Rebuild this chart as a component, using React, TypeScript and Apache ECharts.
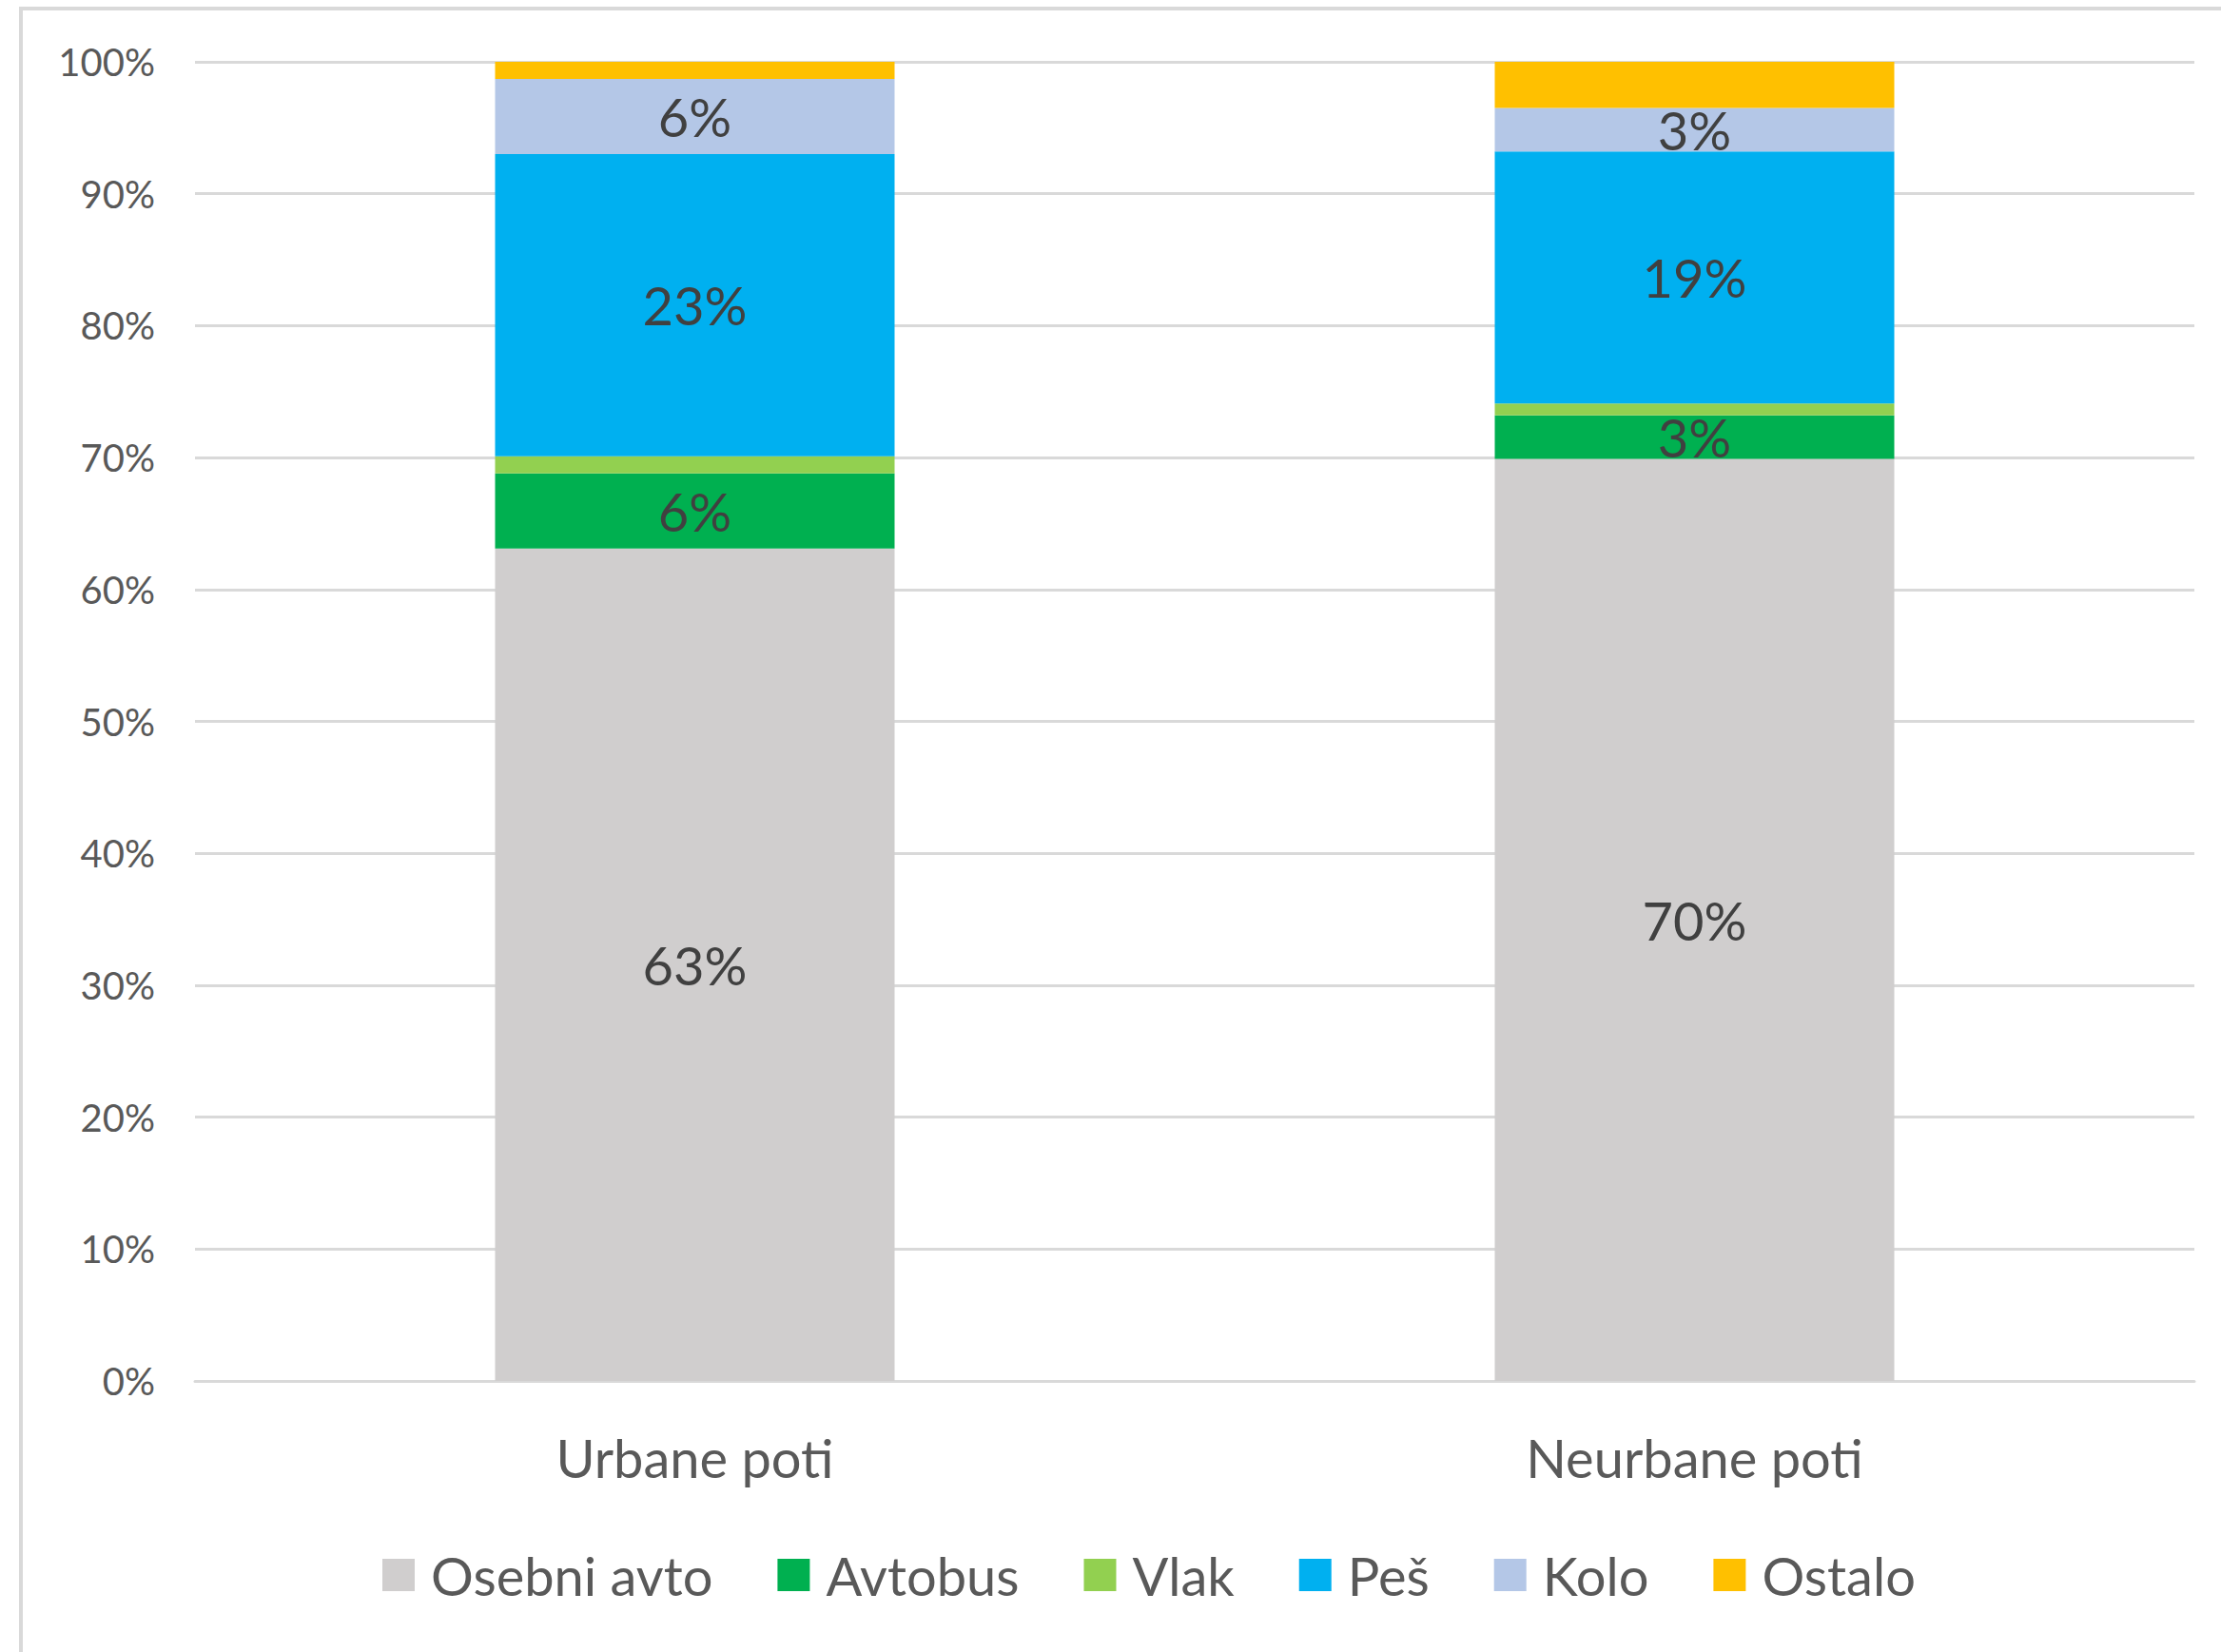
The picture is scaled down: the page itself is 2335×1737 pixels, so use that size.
import React, { useEffect, useRef } from "react";
import * as echarts from "echarts";

const categories = ["Urbane poti", "Neurbane poti"];
const seriesNames = ["Osebni avto", "Avtobus", "Vlak", "Peš", "Kolo", "Ostalo"];
const osebniAvto = [63.1, 69.9];
const avtobus = [5.7, 3.3];
const vlak = [1.3, 0.9];
const pes = [22.9, 19.1];
const kolo = [5.7, 3.3];
const ostalo = [1.3, 3.5];
const showLabel = [true, true, false, true, true, false];
const colors = ["#D0CECE", "#00B050", "#92D050", "#00B0F0", "#B4C7E7", "#FFC000"];
const yTicks = [0, 10, 20, 30, 40, 50, 60, 70, 80, 90, 100];

const FONT = "Lato";

export default function App() {
  const ref = useRef<HTMLDivElement>(null);
  useEffect(() => {
    if (!ref.current) return;
    const chart = echarts.init(ref.current, undefined, { renderer: "svg" });
    const values = [osebniAvto, avtobus, vlak, pes, kolo, ostalo];
    chart.setOption({
      animation: false,
      backgroundColor: "#FFFFFF",
      graphic: [
        {
          type: "rect",
          shape: { x: 22, y: 9, width: 2500, height: 1900 },
          style: { fill: "none", stroke: "#D9D9D9", lineWidth: 4 },
          silent: true,
        },
      ],
      grid: { left: 205, right: 28, top: 65, bottom: 285 },
      legend: {
        data: seriesNames,
        left: 402,
        top: 1628,
        padding: 0,
        itemWidth: 34,
        itemHeight: 34,
        itemGap: 68,
        icon: "rect",
        textStyle: {
          fontFamily: FONT,
          fontSize: 56,
          color: "#595959",
          padding: [0, 0, 0, 12],
        },
      },
      xAxis: {
        type: "category",
        data: categories,
        axisLine: { show: true, lineStyle: { color: "#D9D9D9", width: 3 } },
        axisTick: { show: false },
        axisLabel: {
          fontFamily: FONT,
          fontSize: 56,
          color: "#595959",
          margin: 52,
        },
      },
      yAxis: {
        type: "value",
        min: yTicks[0],
        max: yTicks[yTicks.length - 1],
        interval: 10,
        axisLine: { show: false },
        axisTick: { show: false },
        splitLine: { show: true, lineStyle: { color: "#D9D9D9", width: 3 } },
        axisLabel: {
          fontFamily: FONT,
          fontSize: 40,
          color: "#595959",
          margin: 42,
          formatter: "{value}%",
        },
      },
      series: seriesNames.map((name, i) => ({
        name,
        type: "bar",
        stack: "total",
        barWidth: 420,
        data: values[i],
        itemStyle: { color: colors[i] },
        label: {
          show: showLabel[i],
          position: "inside",
          fontFamily: FONT,
          fontSize: 56,
          color: "#404040",
          formatter: (p: any) => Math.round(p.value) + "%",
        },
      })),
    });
    return () => chart.dispose();
  }, []);
  return (
    <div
      ref={ref}
      style={{ position: "absolute", left: 0, top: 0, width: 2335, height: 1737 }}
    />
  );
}
